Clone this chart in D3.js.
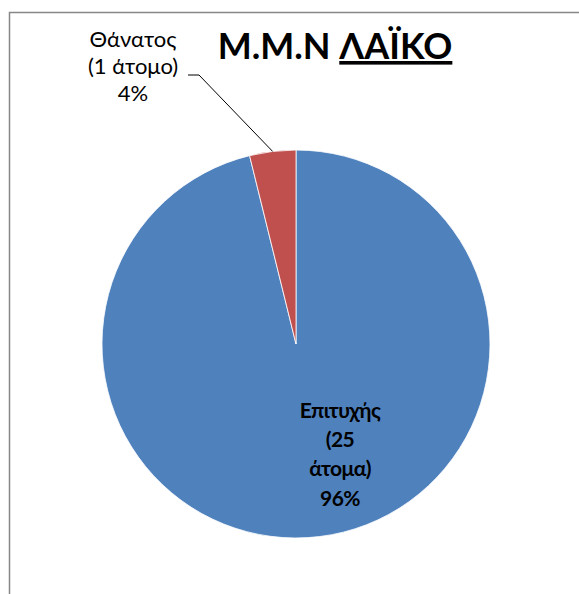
<!DOCTYPE html>
<html>
<head>
<meta charset="utf-8">
<script src="https://cdn.jsdelivr.net/npm/d3@7"></script>
<style>
  body { margin: 0; background: #fff; }
  svg { display: block; }
</style>
</head>
<body>
<script>
// data
var categories = ['Επιτυχής', 'Θάνατος'];
var values = [25, 1];
var labelLines = [['Επιτυχής', '(25', 'άτομα)', '96%'], ['Θάνατος', '(1 άτομο)', '4%']];
var colors = ['#4F81BD', '#C0504D'];

var width = 579, height = 594;
var cx = 296, cy = 344, r = 194;
var font = 'Lato, Open Sans, sans-serif';

var svg = d3.select('body').append('svg')
    .attr('width', width)
    .attr('height', height);

// chart frame
svg.append('path')
    .attr('d', 'M9.5,' + height + 'V12.5H' + width)
    .attr('fill', 'none')
    .attr('stroke', '#878787')
    .attr('stroke-width', 1.5);

// title
var title = svg.append('text')
    .attr('x', 335)
    .attr('y', 59)
    .attr('text-anchor', 'middle')
    .style('font-family', font)
    .style('font-weight', 'bold')
    .style('font-size', '36px')
    .attr('fill', '#000');
title.append('tspan').text('M.M.N ');
title.append('tspan').text('ΛΑΪΚΟ').style('text-decoration', 'underline');

var pie = d3.pie().sort(null).value(function(d) { return d; });
var arcs = pie(values);
var arc = d3.arc().innerRadius(0).outerRadius(r);

var g = svg.append('g').attr('transform', 'translate(' + cx + ',' + cy + ')');

g.selectAll('path.slice')
    .data(arcs)
    .enter().append('path')
    .attr('class', 'slice')
    .attr('d', arc)
    .attr('fill', function(d, i) { return colors[i]; })
    .attr('stroke', '#fff')
    .attr('stroke-width', 0.8);

// inside label for the big slice
var inLabel = svg.append('text')
    .attr('text-anchor', 'middle')
    .style('font-family', font)
    .style('font-weight', 'bold')
    .style('font-size', '21px')
    .style('letter-spacing', '-0.6px')
    .attr('fill', '#000');
labelLines[0].forEach(function(t, i) {
    inLabel.append('tspan').attr('x', 340).attr('y', 418 + i * 29.2).text(t);
});

// outside label for the small slice, with leader line
var edge = d3.arc().innerRadius(r).outerRadius(r).centroid(arcs[1]);
svg.append('polyline')
    .attr('points', [[188, 75], [199, 75], [cx + edge[0], cy + edge[1]]].join(' '))
    .attr('fill', 'none')
    .attr('stroke', '#000')
    .attr('stroke-width', 1);

var outLabel = svg.append('text')
    .attr('text-anchor', 'middle')
    .style('font-family', font)
    .style('font-size', '22px')
    .attr('fill', '#000');
labelLines[1].forEach(function(t, i) {
    outLabel.append('tspan').attr('x', 133).attr('y', 47 + i * 27).text(t);
});
</script>
</body>
</html>
